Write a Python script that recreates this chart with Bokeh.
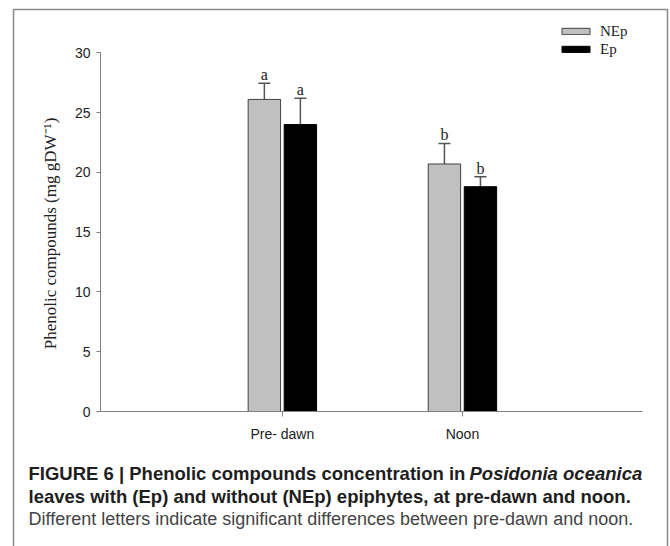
import math
from bokeh.plotting import figure
from bokeh.models import (ColumnDataSource, Whisker, TeeHead, Legend, LegendItem,
                          FixedTicker, Range1d)
from bokeh.transform import dodge
from bokeh.core.properties import value
from bokeh.embed import file_html
from bokeh.resources import INLINE

# ---- data ----
categories = ["Pre- dawn", "Noon"]
cat_pos = [1, 2]
nep_values = [26.1, 20.7]
ep_values = [24.0, 18.8]
nep_err = [1.35, 1.72]
ep_err = [2.2, 0.84]
nep_letters = ["a", "b"]
ep_letters = ["a", "b"]
y_ticks = [0, 5, 10, 15, 20, 25, 30]
series_labels = ["NEp", "Ep"]
y_title = "Phenolic compounds (mg gDW\u207b\u00b9)"
caption_1a = "FIGURE 6 | Phenolic compounds concentration in "
caption_1b = "Posidonia oceanica"
caption_2 = "leaves with (Ep) and without (NEp) epiphytes, at pre-dawn and noon."
caption_3 = "Different letters indicate significant differences between pre-dawn and noon."

# ---- page geometry (px) ----
PAGE_W, PAGE_H = 670, 546
AX_LEFT = 100          # page x of the y axis
AX_BOTTOM = 411        # page y of the x axis
Y30 = 52.3             # page y of value 30
PPU_X = 180.07         # px per category unit
XS, XB = -0.01, 3.0    # x axis extent (data)
ppu_y = (AX_BOTTOM - Y30) / 30.0


def dx(px):
    return XS + (px - AX_LEFT) / PPU_X


def dy(py):
    return (AX_BOTTOM - py) / ppu_y


p = figure(width=PAGE_W, height=PAGE_H,
           x_range=Range1d(dx(0), dx(PAGE_W)), y_range=Range1d(dy(PAGE_H), dy(0)),
           output_backend="svg", toolbar_location=None,
           min_border_left=0, min_border_right=0, min_border_top=0, min_border_bottom=0)
p.title.visible = False
p.outline_line_color = None
p.grid.visible = False
p.background_fill_color = "white"
p.border_fill_color = "white"

# panel frame (open at the bottom, as cropped)
BOX_COLOR = "#8a8a8a"
p.line(x=[dx(13), dx(13), dx(667), dx(667)], y=[dy(600), dy(9), dy(9), dy(600)],
       line_color=BOX_COLOR, line_width=1.5)

# ---- bars ----
letter_gap = 8.5 / ppu_y
nep_up = [v + e for v, e in zip(nep_values, nep_err)]
ep_up = [v + e for v, e in zip(ep_values, ep_err)]
src = ColumnDataSource(dict(
    x=cat_pos, nep=nep_values, ep=ep_values,
    nep_up=nep_up, ep_up=ep_up,
    nep_ly=[u + letter_gap for u in nep_up],
    ep_ly=[u + letter_gap for u in ep_up],
    nl=nep_letters, el=ep_letters,
))

bw = 0.18
off = 0.1
r1 = p.vbar(x=dodge("x", -off), top="nep", width=bw, source=src,
            fill_color="#c0c0c0", line_color="#404040", line_width=1)
r2 = p.vbar(x=dodge("x", off), top="ep", width=bw, source=src,
            fill_color="#000000", line_color="#000000", line_width=1)

for base_col, up_col, o in (("nep", "nep_up", -off), ("ep", "ep_up", off)):
    w = Whisker(base=dodge("x", o), lower=base_col, upper=up_col, source=src,
                dimension="height", line_color="#555555", line_width=1.5,
                lower_head=None,
                upper_head=TeeHead(size=12, line_color="#555555", line_width=1.5))
    p.add_layout(w)

for col, ly, o in (("nl", "nep_ly", -off), ("el", "ep_ly", off)):
    p.text(x=dodge("x", o), y=ly, text=col, source=src,
           text_font=value("Liberation Serif"), text_font_size="16px",
           text_align="center", text_baseline="middle",
           text_color="#222222")

# ---- axes ----
for ax in (p.xaxis[0], p.yaxis[0]):
    ax.axis_line_color = "#808080"
    ax.axis_line_width = 1
    ax.major_tick_line_color = "#808080"
    ax.minor_tick_line_color = None
    ax.major_tick_in = 0
    ax.major_label_text_font = "Liberation Sans"
    ax.major_label_text_font_size = "14px"
    ax.major_label_text_color = "#222222"

p.yaxis.fixed_location = XS
p.yaxis.ticker = FixedTicker(ticks=y_ticks)
p.yaxis.bounds = (0, 30)
p.yaxis.major_tick_out = 4
p.yaxis.major_label_standoff = 6

p.xaxis.fixed_location = 0
p.xaxis.ticker = FixedTicker(ticks=cat_pos)
p.xaxis.bounds = (XS, XB)
p.xaxis.major_label_overrides = {c: l for c, l in zip(cat_pos, categories)}
p.xaxis.major_tick_out = 5
p.xaxis.major_label_standoff = 9

# y axis title
p.text(x=[dx(50)], y=[dy(233)], text=[y_title], angle=math.pi / 2,
       text_font=value("Liberation Serif"), text_font_size="17px",
       text_align="center", text_baseline="middle", text_color="#222222")

# ---- legend ----
legend = Legend(items=[LegendItem(label=series_labels[0], renderers=[r1]),
                       LegendItem(label=series_labels[1], renderers=[r2])],
                location=(558, PAGE_H - 58), orientation="vertical",
                glyph_width=35, glyph_height=8, label_height=18, spacing=0,
                padding=0, margin=0, label_standoff=7,
                border_line_alpha=0, background_fill_alpha=0,
                label_text_font="Liberation Serif", label_text_font_size="15px",
                label_text_color="#222222")
p.add_layout(legend)

# ---- caption ----
cap_x = 28
p.text(x=[dx(cap_x), dx(cap_x)], y=[dy(473), dy(496)], text=[caption_1a, caption_2],
       text_font=value("Liberation Sans"), text_font_size="18.5px",
       text_font_style="bold", text_color="#1e1e1e", text_baseline="middle")
p.text(x=[dx(469)], y=[dy(473)], text=[caption_1b],
       text_font=value("Liberation Sans"), text_font_size="18.5px",
       text_font_style="bold italic", text_color="#1e1e1e", text_baseline="middle")
p.text(x=[dx(cap_x)], y=[dy(518)], text=[caption_3],
       text_font=value("Liberation Sans"), text_font_size="18px",
       text_font_style="normal", text_color="#444444", text_baseline="middle")

open("out.html", "w").write(file_html(p, INLINE))
